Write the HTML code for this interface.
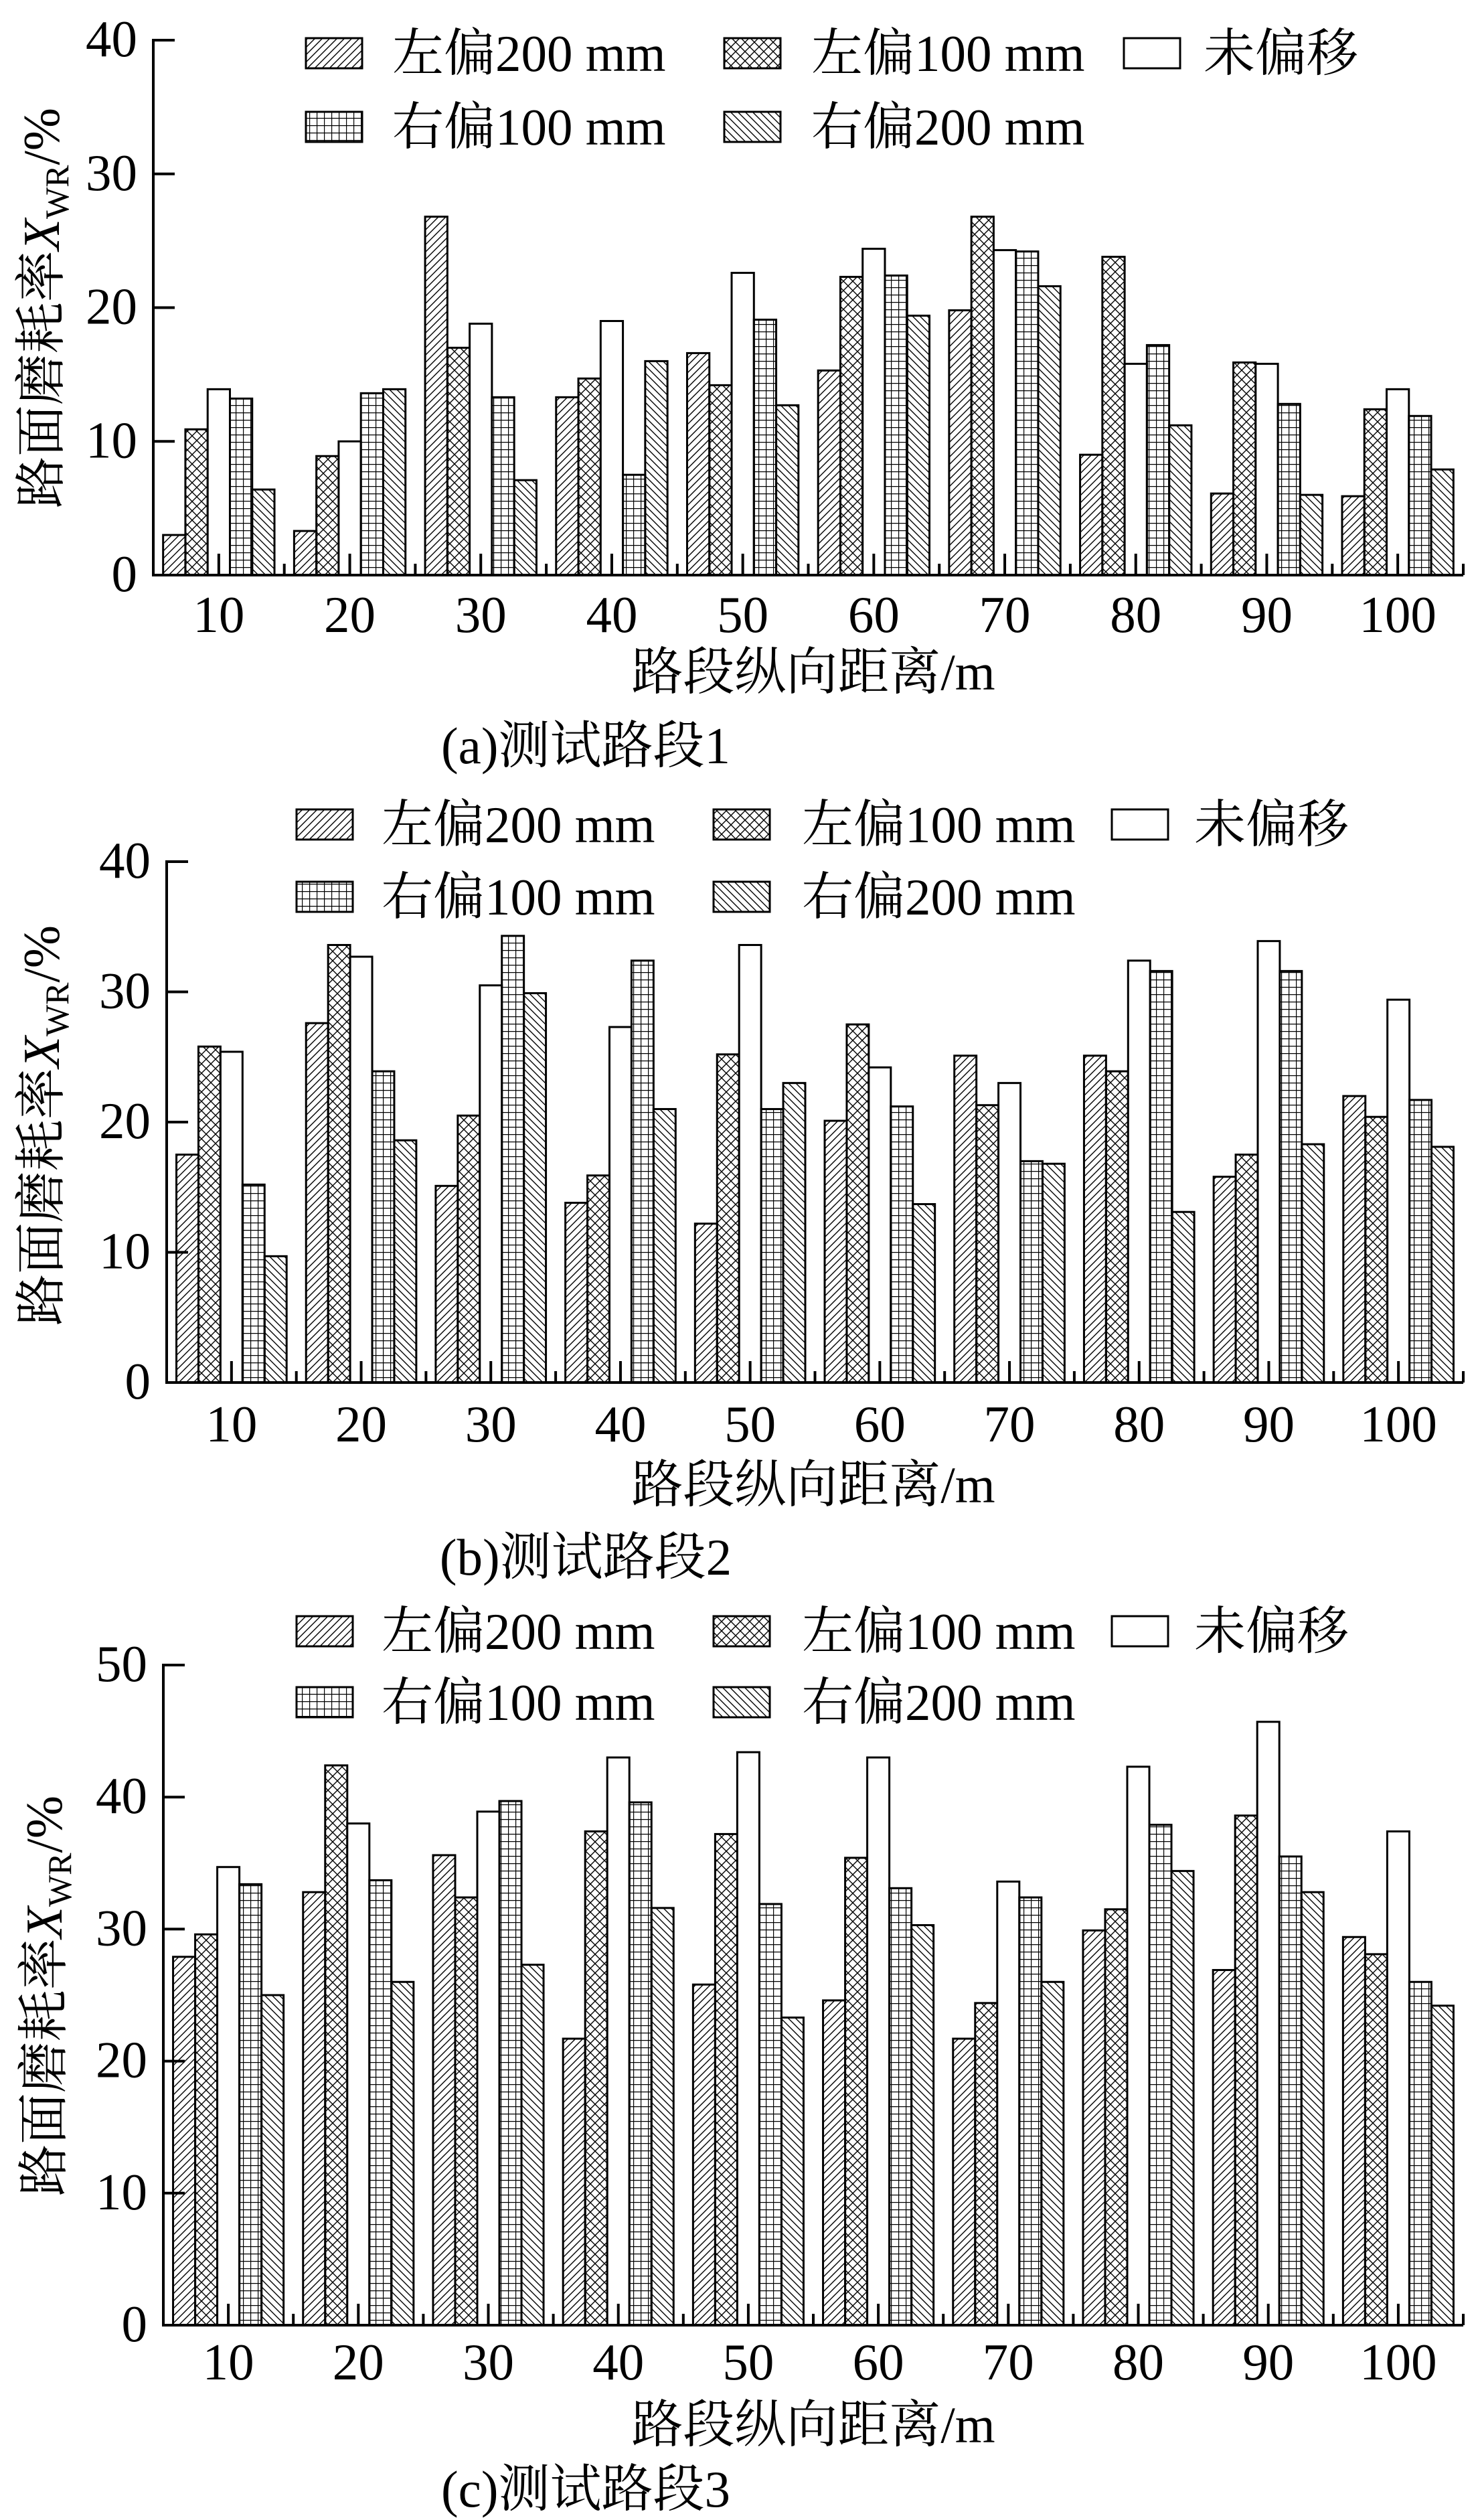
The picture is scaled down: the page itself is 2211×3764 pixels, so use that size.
<!DOCTYPE html>
<html><head><meta charset="utf-8">
<style>
html,body{margin:0;padding:0;background:#fff;}
svg{display:block;}
text{font-family:"Liberation Serif","Noto Serif CJK SC",serif;fill:#000;}
</style></head>
<body>
<svg id="fig" width="2211" height="3764" viewBox="0 0 2211 3764" xmlns="http://www.w3.org/2000/svg">
<defs>
<pattern id="pL200" patternUnits="userSpaceOnUse" width="11" height="11"><path d="M-2,13 L13,-2 M-2,2 L2,-2 M9,13 L13,9" stroke="#000" stroke-width="1.4"/></pattern>
<pattern id="pL100" patternUnits="userSpaceOnUse" width="14" height="14"><path d="M0,0 L14,14 M14,0 L0,14" stroke="#000" stroke-width="1.4"/></pattern>
<pattern id="pR100" patternUnits="userSpaceOnUse" width="11" height="11"><path d="M0,0.5 H11 M0.5,0 V11" stroke="#000" stroke-width="1.4"/></pattern>
<pattern id="pR200" patternUnits="userSpaceOnUse" width="11" height="11"><path d="M-2,-2 L13,13 M9,-2 L13,2 M-2,9 L2,13" stroke="#000" stroke-width="1.4"/></pattern>
</defs>
<g id="root"></g>
</svg>
<script>
const categories = ["10","20","30","40","50","60","70","80","90","100"];
const seriesNames = ["左偏200 mm","左偏100 mm","未偏移","右偏100 mm","右偏200 mm"];
// chart (a)
const a_left200  = [3.0,3.3,26.8,13.3,16.6,15.3,19.8,9.0,6.1,5.9];
const a_left100  = [10.9,8.9,17.0,14.7,14.2,22.3,26.8,23.8,15.9,12.4];
const a_none     = [13.9,10.0,18.8,19.0,22.6,24.4,24.3,15.8,15.8,13.9];
const a_right100 = [13.2,13.6,13.3,7.5,19.1,22.4,24.2,17.2,12.8,11.9];
const a_right200 = [6.4,13.9,7.1,16.0,12.7,19.4,21.6,11.2,6.0,7.9];
const a_ticks = [0,10,20,30,40];
// chart (b)
const b_left200  = [17.5,27.6,15.1,13.8,12.2,20.1,25.1,25.1,15.8,22.0];
const b_left100  = [25.8,33.6,20.5,15.9,25.2,27.5,21.3,23.9,17.5,20.4];
const b_none     = [25.4,32.7,30.5,27.3,33.6,24.2,23.0,32.4,33.9,29.4];
const b_right100 = [15.2,23.9,34.3,32.4,21.0,21.2,17.0,31.6,31.6,21.7];
const b_right200 = [9.7,18.6,29.9,21.0,23.0,13.7,16.8,13.1,18.3,18.1];
const b_ticks = [0,10,20,30,40];
// chart (c)
const c_left200  = [27.9,32.8,35.6,21.7,25.8,24.6,21.7,29.9,26.9,29.4];
const c_left100  = [29.6,42.4,32.4,37.4,37.2,35.4,24.4,31.5,38.6,28.1];
const c_none     = [34.7,38.0,38.9,43.0,43.4,43.0,33.6,42.3,45.7,37.4];
const c_right100 = [33.4,33.7,39.7,39.6,31.9,33.1,32.4,37.9,35.5,26.0];
const c_right200 = [25.0,26.0,27.3,31.6,23.3,30.3,26.0,34.4,32.8,24.2];
const c_ticks = [0,10,20,30,40,50];

const NS="http://www.w3.org/2000/svg";
const root=document.getElementById('root');
const fills=["url(#pL200)","url(#pL100)","#fff","url(#pR100)","url(#pR200)"];
const keys=["left200","left100","none","right100","right200"];
function mk(tag,attrs,parent){const e=document.createElementNS(NS,tag);for(const k in attrs)e.setAttribute(k,attrs[k]);(parent||root).appendChild(e);return e;}

const FS=77;
const charts=[
 {id:"a",series:[a_left200,a_left100,a_none,a_right100,a_right200],ticks:a_ticks,max:40,
  x0:229,x1:2186,y0:859,yTop:60,legY1:79,legY2:189,sw:[457,1082,1679],tx:[586,1212,1798],
  xlabY:944,titleY:1030,capY:1140,capX:875,titleX:1215,ytX:88,ytY:460,caption:"(a)测试路段1"},
 {id:"b",series:[b_left200,b_left100,b_none,b_right100,b_right200],ticks:b_ticks,max:40,
  x0:249,x1:2186,y0:2065,yTop:1287,legY1:1231,legY2:1339,sw:[443,1066,1661],tx:[570,1198,1784],
  xlabY:2153,titleY:2244,capY:2352,capX:875,titleX:1215,ytX:88,ytY:1681,caption:"(b)测试路段2"},
 {id:"c",series:[c_left200,c_left100,c_none,c_right100,c_right200],ticks:c_ticks,max:50,
  x0:244,x1:2186,y0:3473,yTop:2487,legY1:2436,legY2:2542,sw:[443,1066,1661],tx:[570,1198,1784],
  xlabY:3554,titleY:3648,capY:3744,capX:875,titleX:1215,ytX:92,ytY:2981,caption:"(c)测试路段3"}
];

charts.forEach(c=>{
  const g=mk('g',{});
  
  
  const gw=(c.x1-c.x0)/categories.length;
  const bw=gw*0.17;
  const yScale=v=>c.y0-(v/c.max)*(c.y0-c.yTop);
  const xCenter=i=>c.x0+gw*(i+0.5);
  c.series.forEach((arr,s)=>{
    arr.forEach((v,i)=>{
      const x=xCenter(i)-2.5*bw+s*bw;
      const y=yScale(v);
      const r=mk('rect',{x:x,y:y,width:bw,height:c.y0-y,fill:fills[s],stroke:"#000","stroke-width":3},g);
      
      
    });
  });
  const ya=mk('line',{x1:c.x0,y1:c.yTop-2,x2:c.x0,y2:c.y0+2,stroke:"#000","stroke-width":4},g);
  
  
  const xa=mk('line',{x1:c.x0-2,y1:c.y0,x2:c.x1,y2:c.y0,stroke:"#000","stroke-width":4},g);
  
  
  c.ticks.forEach(t=>{
    const y=yScale(t);
    mk('line',{x1:c.x0,y1:y,x2:c.x0+32,y2:y,stroke:"#000","stroke-width":4},g);
    const tl=mk('text',{x:c.x0-24,y:y+24,"text-anchor":"end","font-size":FS},g);
    tl.textContent=t;
    
    
  });
  for(let i=1;i<=categories.length;i++){
    const x=c.x0+gw*i;
    mk('line',{x1:x,y1:c.y0,x2:x,y2:c.y0-17,stroke:"#000","stroke-width":4},g);
  }
  categories.forEach((cat,i)=>{
    const x=xCenter(i);
    mk('line',{x1:x,y1:c.y0,x2:x,y2:c.y0-32,stroke:"#000","stroke-width":4},g);
    const tl=mk('text',{x:x,y:c.xlabY,"text-anchor":"middle","font-size":FS},g);
    tl.textContent=cat;
    
    
  });
  const xt=mk('text',{x:c.titleX,y:c.titleY,"text-anchor":"middle","font-size":FS},g);
  xt.textContent="路段纵向距离/m";
  
  
  const cap=mk('text',{x:c.capX,y:c.capY,"text-anchor":"middle","font-size":FS},g);
  cap.textContent=c.caption;
  
  
  const yt=mk('text',{x:0,y:0,"text-anchor":"middle","font-size":FS,transform:`translate(${c.ytX},${c.ytY}) rotate(-90)`},g);
  yt.innerHTML='路面磨耗率<tspan font-style="italic">X</tspan><tspan font-size="50" dy="14">WR</tspan><tspan dy="-14">/%</tspan>';
  
  
  const pos=[[0,c.legY1],[1,c.legY1],[2,c.legY1],[0,c.legY2],[1,c.legY2]];
  [0,1,2,3,4].forEach(s=>{
    const [col,ly]=pos[s];
    const lg=mk('g',{},g);
    
    
    mk('rect',{x:c.sw[col],y:ly-22,width:84,height:45,fill:fills[s],stroke:"#000","stroke-width":3},lg);
    const t=mk('text',{x:c.tx[col],y:ly+27,"font-size":FS},lg);
    t.textContent=seriesNames[s];
  });
});
</script>
</body></html>
